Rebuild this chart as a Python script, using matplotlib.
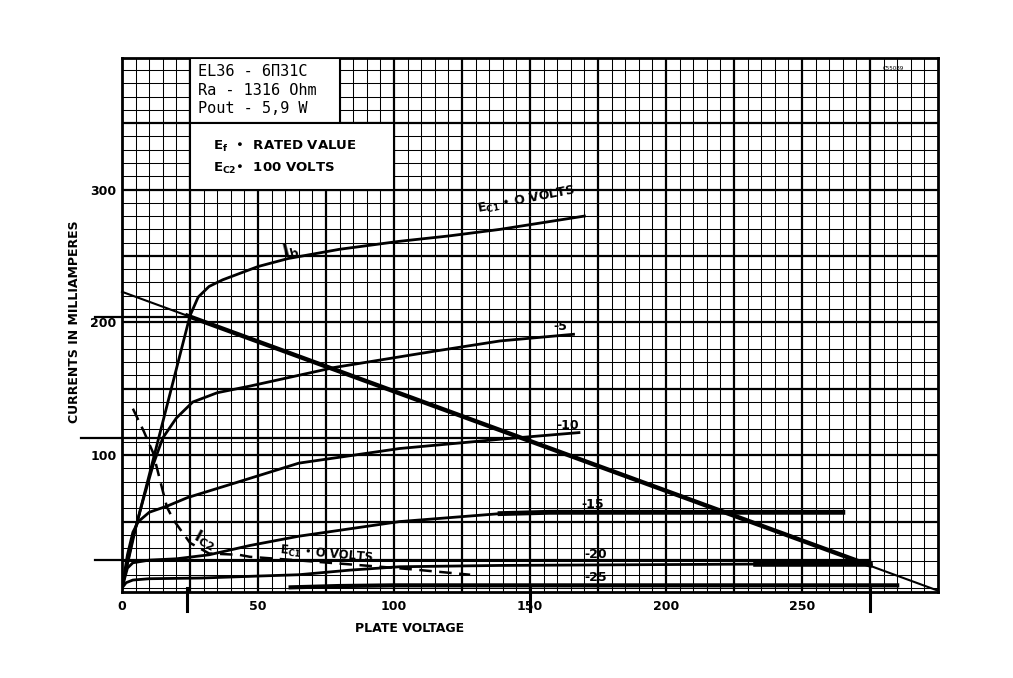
import matplotlib
matplotlib.use("Agg")
import matplotlib.pyplot as plt
from matplotlib.patches import Rectangle

plt.rcParams['font.family'] = ['DejaVu Sans']
plt.rcParams['mathtext.fontset'] = 'dejavusans'

# ---------------- data ----------------
# Plate current curves, Ec1 = 0 ... -25 V  (plate voltage V, current mA)
ib0_v = [0, 5, 10, 15, 20, 25, 28, 32, 37, 50, 61, 80, 102, 120, 139, 170]
ib0_i = [0, 45, 85, 125, 165, 205, 219, 227, 232, 242, 248, 255, 261, 265, 270, 280]

ib5_v = [0, 4, 8, 11.5, 15, 20, 26, 35, 47, 78, 114, 139, 166]
ib5_i = [0, 38, 68, 93, 113, 128, 140, 147, 152, 166, 178, 186, 191]

ib10_v = [0, 2, 4, 6, 10, 17, 24, 43, 65, 102, 139, 168]
ib10_i = [0, 25, 42, 50, 57, 62, 68, 80, 94, 105, 112, 117]

ib15_v = [0, 2, 4, 10, 20, 32, 47, 65, 102, 139, 157, 265]
ib15_i = [0, 15, 19, 21, 22, 25, 32, 39, 50, 56, 57, 57]

ib20_v = [0, 1.5, 4, 10, 29, 50, 65, 84, 102, 139, 233, 275]
ib20_i = [0, 4, 6, 7, 7.5, 9, 10, 13.5, 16, 17, 18, 18]

ib25_v = [62, 80, 100, 150, 285]
ib25_i = [0.5, 1.5, 2, 2, 2]

# Screen current, Ec1 = 0 (dashed)
ic2_v = [4, 8, 11.4, 14, 16.5, 19, 25, 32, 43, 47, 70, 95, 107, 128]
ic2_i = [135, 118, 102, 81, 61, 51, 34, 26, 25, 23.5, 20, 16, 14, 10]

# Load line (Ra = 1316 Ohm) and operating points
load_v = [0, 300]
load_i = [223, -2]
op_v = [24, 150, 275]
op_i = [204, 113, 21]

xticks = [0, 50, 100, 150, 200, 250]
yticks = [100, 200, 300]

# ---------------- figure ----------------
W, H = 1013, 678
fig = plt.figure(figsize=(W / 100, H / 100), dpi=100)
L, R, T, B = 122, 938, 58, 592
ax = fig.add_axes([L / W, 1 - B / H, (R - L) / W, (B - T) / H])
ax.set_xlim(0, 300)
ax.set_ylim(-3, 399)

# grid
for v in range(5, 300, 5):
    major = (v % 25 == 0)
    ax.axvline(v, color='black', lw=1.6 if major else 0.75, zorder=1)
for i in range(10, 400, 10):
    major = (i % 50 == 0)
    ax.axhline(i, color='black', lw=1.6 if major else 0.75, zorder=1)
ax.axhline(0, color='black', lw=0.75, zorder=1)

for s in ax.spines.values():
    s.set_linewidth(2.0)

# white boxes
ax.add_patch(Rectangle((25, 350), 55, 49, facecolor='white', edgecolor='black', lw=1.5, zorder=3))
ax.add_patch(Rectangle((25, 300), 75, 50, facecolor='white', edgecolor='black', lw=1.5, zorder=3))
ax.text(28, 394.5, "EL36 - 6П31С\nRa - 1316 Ohm\nPout - 5,9 W", family='DejaVu Sans Mono',
        fontsize=11, va='top', ha='left', linespacing=1.3, zorder=4)
ax.text(33.5, 332.5, r"$\mathbf{E_f}$  •  RATED VALUE", fontsize=9.5, fontweight='bold',
        va='center', ha='left', zorder=4)
ax.text(33.5, 316, r"$\mathbf{E_{C2}}$•  100 VOLTS", fontsize=9.5, fontweight='bold',
        va='center', ha='left', zorder=4)

# curves
ax.plot(ib0_v, ib0_i, color='black', lw=2.0, zorder=5)
ax.plot(ib5_v, ib5_i, color='black', lw=2.0, zorder=5)
ax.plot(ib10_v, ib10_i, color='black', lw=2.0, zorder=5)
ax.plot(ib15_v, ib15_i, color='black', lw=2.0, zorder=5)
ax.plot(ib15_v[-3:], ib15_i[-3:], color='black', lw=3.5, zorder=5)
ax.plot(ib20_v, ib20_i, color='black', lw=2.0, zorder=5)
ax.plot(ib20_v[-2:], ib20_i[-2:], color='black', lw=4.0, zorder=5)
ax.plot(ib25_v, ib25_i, color='black', lw=3.0, zorder=5)
ax.plot(ic2_v, ic2_i, color='black', lw=1.8, ls=(0, (5, 3)), zorder=5)

# load line
ax.plot(load_v, load_i, color='black', lw=1.5, zorder=6, clip_on=False)
ax.plot([op_v[0], op_v[2]], [op_i[0] + 1, op_i[2] - 4], color='black', lw=3.2, zorder=6)

# operating point lines (extending beyond the frame)
ax.plot([-10, op_v[0]], [op_i[0], op_i[0]], color='black', lw=1.6, clip_on=False, zorder=6)
ax.plot([-15, op_v[1]], [op_i[1], op_i[1]], color='black', lw=1.6, clip_on=False, zorder=6)
ax.plot([-10, op_v[2]], [op_i[2], op_i[2]], color='black', lw=1.6, clip_on=False, zorder=6)
for v in op_v:
    ax.plot([v, v], [-17, 0], color='black', lw=2.2, clip_on=False, zorder=6)

# labels on curves
lab = dict(fontsize=9, fontweight='bold', zorder=7, ha='center', va='center')
ax.text(62, 254, r"$\mathbf{I_b}$", rotation=14, fontsize=12, zorder=7, ha='center', va='center')
ax.text(148.5, 292, r"$\mathbf{E_{C1}}$ • O VOLTS", rotation=11, **lab)
ax.text(161, 197, "-5", **lab)
ax.text(164, 122, "-10", **lab)
ax.text(173, 63, "-15", **lab)
ax.text(174, 25, "-20", **lab)
ax.text(174, 8, "-25", **lab)
ax.text(30.5, 36, r"$\mathbf{I_{C2}}$", rotation=-28, fontsize=11.5, zorder=7,
        ha='center', va='center')
ax.text(75, 25.5, r"$\mathbf{E_{C1}}$ • O VOLTS", rotation=-5, fontsize=8.5,
        fontweight='bold', zorder=7, ha='center', va='center')
ax.text(283.5, 391, "C55089", fontsize=4, zorder=7, ha='center', va='center')

# ticks
ax.set_xticks(xticks)
ax.set_yticks(yticks)
ax.tick_params(length=0, labelsize=9, pad=6)
for t in ax.get_xticklabels() + ax.get_yticklabels():
    t.set_fontweight('bold')
ax.tick_params(axis='y', pad=4)

fig.text(410 / W, 1 - 628 / H, "PLATE VOLTAGE", fontsize=9, fontweight='bold',
         ha='center', va='center')
fig.text(74 / W, 1 - 322 / H, "CURRENTS IN MILLIAMPERES", fontsize=9, fontweight='bold',
         ha='center', va='center', rotation=90)

fig.savefig("out.png", dpi=100)
